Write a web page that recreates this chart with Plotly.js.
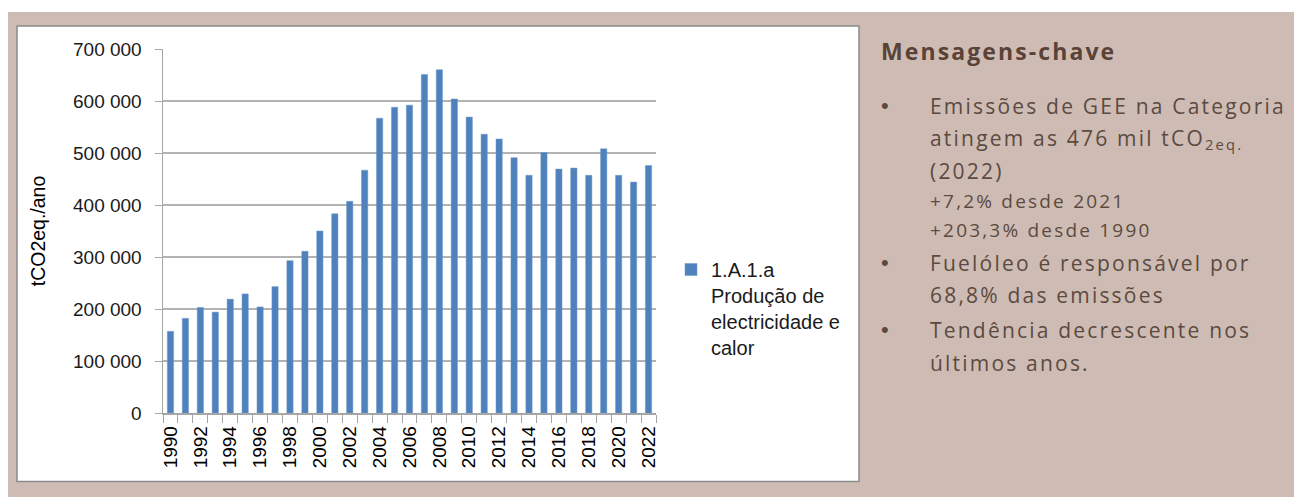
<!DOCTYPE html>
<html>
<head>
<meta charset="utf-8">
<script src="https://cdn.plot.ly/plotly-3.0.1.min.js"></script>
<style>
  html, body { margin: 0; padding: 0; background: #ffffff; }
  #chart { width: 1294px; height: 497px; }
</style>
</head>
<body>
<div id="chart"></div>
<script>
// ---- data (tCO2eq./ano) ----
var years = ['1990','1991','1992','1993','1994','1995','1996','1997','1998','1999',
             '2000','2001','2002','2003','2004','2005','2006','2007','2008','2009',
             '2010','2011','2012','2013','2014','2015','2016','2017','2018','2019',
             '2020','2021','2022'];
var emissions = [157000, 182000, 203000, 194000, 219000, 229000, 204000, 243000, 293000, 311000,
                 350000, 383000, 407000, 467000, 567000, 588000, 592000, 651000, 660000, 604000,
                 569000, 536000, 527000, 491000, 457000, 501000, 469000, 471000, 457000, 508000,
                 457000, 444000, 476000];
var tickLabels = years.map(function (y, i) { return i % 2 === 0 ? y : ''; });
var seriesName = '1.A.1.a<br>Produção de<br>electricidade e<br>calor';
var yTitle = 'tCO2eq./ano';
var panelTitle = 'Mensagens-chave';
var bulletLines = [
  {text: 'Emissões de GEE na Categoria', bullet: true, size: 21},
  {text: 'atingem as 476 mil tCO<sub>2eq.</sub>', bullet: false, size: 21},
  {text: '(2022)', bullet: false, size: 21},
  {text: '+7,2% desde 2021', bullet: false, size: 19},
  {text: '+203,3% desde 1990', bullet: false, size: 19},
  {text: 'Fuelóleo é responsável por', bullet: true, size: 21},
  {text: '68,8% das emissões', bullet: false, size: 21},
  {text: 'Tendência decrescente nos', bullet: true, size: 21},
  {text: 'últimos anos.', bullet: false, size: 21}
];

// ---- layout geometry ----
var FW = 1294, FH = 497;
var L = 163, T = 49, W = 493, H = 364;
function xp(px) { return (px - L) / W; }
function yp(py) { return (T + H - py) / H; }

var TAN = '#cebcb4';
var BROWN = '#5b4a40';
var BROWN_DARK = '#5a4236';
var TXT_FONT = '"Open Sans", sans-serif';

var baselines = [114, 147, 179, 208, 237, 271, 303, 338, 371];

var annotations = [];
annotations.push({
  xref: 'paper', yref: 'paper', x: xp(879), y: yp(59 - 0.36 * 23),
  xanchor: 'left', yanchor: 'middle', showarrow: false,
  text: '<span style="letter-spacing:2.1px">' + panelTitle + '</span>',
  font: {family: TXT_FONT, size: 23, color: BROWN_DARK, weight: 'bold'}
});
bulletLines.forEach(function (ln, i) {
  var b = baselines[i];
  annotations.push({
    xref: 'paper', yref: 'paper', x: xp(928), y: yp(b - 0.36 * ln.size),
    xanchor: 'left', yanchor: 'middle', showarrow: false,
    text: '<span style="letter-spacing:2.2px">' + ln.text + '</span>',
    font: {family: TXT_FONT, size: ln.size, color: BROWN}
  });
  if (ln.bullet) {
    annotations.push({
      xref: 'paper', yref: 'paper', x: xp(885), y: yp(b - 8.5),
      xanchor: 'center', yanchor: 'middle', showarrow: false,
      text: '•',
      font: {family: 'Liberation Sans, Arial, sans-serif', size: 22, color: BROWN}
    });
  }
});

var shapes = [
  {type: 'rect', xref: 'paper', yref: 'paper', layer: 'below',
   x0: xp(8), x1: xp(FW + 2), y0: yp(12), y1: yp(FH + 2),
   fillcolor: TAN, line: {width: 0}},
  {type: 'rect', xref: 'paper', yref: 'paper', layer: 'below',
   x0: xp(17), x1: xp(859), y0: yp(26), y1: yp(481.5),
   fillcolor: '#ffffff', line: {color: '#8a8a8a', width: 1.5}}
];

var trace = {
  type: 'bar',
  x: years,
  y: emissions,
  name: seriesName,
  marker: {color: '#4f81bd', line: {color: '#6f98c9', width: 0.5}},
  hoverinfo: 'skip'
};

var layout = {
  width: FW, height: FH,
  margin: {l: L, r: FW - L - W, t: T, b: FH - T - H, pad: 0},
  paper_bgcolor: '#ffffff',
  plot_bgcolor: 'rgba(0,0,0,0)',
  separators: ', ',
  bargap: 0.58,
  showlegend: true,
  legend: {
    x: xp(671), y: yp(250), xanchor: 'left', yanchor: 'top',
    bgcolor: 'rgba(0,0,0,0)', borderwidth: 0, valign: 'top',
    font: {family: 'Liberation Sans, Arial, sans-serif', size: 20, color: '#1a1a1a'}
  },
  xaxis: {
    type: 'category',
    tickmode: 'array', tickvals: years, ticktext: tickLabels,
    tickson: 'boundaries', ticks: 'outside', ticklen: 8, tickwidth: 1, tickcolor: '#a6a6a6',
    tickangle: -90, ticklabelstandoff: 4,
    tickfont: {family: 'Liberation Sans, Arial, sans-serif', size: 19, color: '#000000'},
    showline: true, linecolor: '#a6a6a6', linewidth: 1.5,
    showgrid: false, zeroline: false, fixedrange: true
  },
  yaxis: {
    range: [0, 700000], dtick: 100000, tick0: 0, tickformat: ',d',
    ticks: 'outside', ticklen: 7, tickwidth: 1, tickcolor: '#a6a6a6',
    ticklabelstandoff: 9,
    tickfont: {family: 'Liberation Sans, Arial, sans-serif', size: 19, color: '#1a1a1a'},
    showline: true, linecolor: '#a6a6a6', linewidth: 1.5,
    showgrid: true, gridcolor: '#b3b3b3', gridwidth: 1.3,
    zeroline: false, fixedrange: true,
    title: {text: yTitle, standoff: 22,
            font: {family: 'Liberation Sans, Arial, sans-serif', size: 19.5, color: '#000000'}}
  },
  shapes: shapes,
  annotations: annotations
};

Plotly.newPlot('chart', [trace], layout, {staticPlot: true, displayModeBar: false});
</script>
</body>
</html>
